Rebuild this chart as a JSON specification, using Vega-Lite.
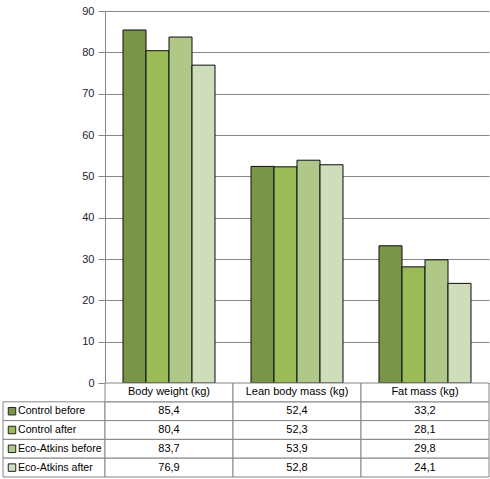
{
  "$schema": "https://vega.github.io/schema/vega-lite/v6.json",
  "background": "white",
  "padding": {"top": 5, "left": 2, "right": 2, "bottom": 1},
  "columns": 2,
  "spacing": 0,
  "bounds": "flush",
  "config": {
    "view": {"stroke": null},
    "font": "Liberation Sans",
    "locale": {"number": {"decimal": ",", "thousands": " ", "grouping": [3], "currency": ["", ""]}}
  },
  "datasets": {
    "diet": [
      {"measure": "Body weight (kg)", "series": "Control before", "value": 85.4},
      {"measure": "Body weight (kg)", "series": "Control after", "value": 80.4},
      {"measure": "Body weight (kg)", "series": "Eco-Atkins before", "value": 83.7},
      {"measure": "Body weight (kg)", "series": "Eco-Atkins after", "value": 76.9},
      {"measure": "Lean body mass (kg)", "series": "Control before", "value": 52.4},
      {"measure": "Lean body mass (kg)", "series": "Control after", "value": 52.3},
      {"measure": "Lean body mass (kg)", "series": "Eco-Atkins before", "value": 53.9},
      {"measure": "Lean body mass (kg)", "series": "Eco-Atkins after", "value": 52.8},
      {"measure": "Fat mass (kg)", "series": "Control before", "value": 33.2},
      {"measure": "Fat mass (kg)", "series": "Control after", "value": 28.1},
      {"measure": "Fat mass (kg)", "series": "Eco-Atkins before", "value": 29.8},
      {"measure": "Fat mass (kg)", "series": "Eco-Atkins after", "value": 24.1}
    ]
  },
  "concat": [
    {
      "width": 102,
      "height": 372,
      "data": {"values": []},
      "mark": {"type": "point", "opacity": 0}
    },
    {
      "width": 384,
      "height": 372,
      "data": {"name": "diet"},
      "encoding": {
        "x": {
          "field": "measure", "type": "nominal",
          "scale": {"domain": ["Body weight (kg)", "Lean body mass (kg)", "Fat mass (kg)"], "paddingInner": 0.28125, "paddingOuter": 0.140625},
          "axis": null
        },
        "xOffset": {
          "field": "series", "type": "nominal",
          "scale": {"domain": ["Control before", "Control after", "Eco-Atkins before", "Eco-Atkins after"], "paddingInner": 0, "paddingOuter": 0}
        },
        "y": {
          "field": "value", "type": "quantitative",
          "scale": {"domain": [0, 90], "nice": false},
          "axis": {
            "values": [0, 10, 20, 30, 40, 50, 60, 70, 80, 90],
            "title": null,
            "grid": true, "gridColor": "#868686", "gridOpacity": 1,
            "domainColor": "#868686", "tickColor": "#868686",
            "tickSize": 7, "labelPadding": 4,
            "labelFontSize": 11, "labelColor": "#1c1c30"
          }
        }
      },
      "layer": [
        {"mark": {"type": "bar", "color": "#000000", "opacity": 0.2, "xOffset": 3, "x2Offset": 4, "yOffset": 4}},
        {
          "mark": {"type": "bar", "stroke": "#0d0d0d", "strokeWidth": 1, "opacity": 1},
          "encoding": {
            "color": {
              "field": "series", "type": "nominal",
              "scale": {"domain": ["Control before", "Control after", "Eco-Atkins before", "Eco-Atkins after"], "range": ["#7a9448", "#9bbb59", "#afc888", "#d0ddbb"]},
              "legend": null
            }
          }
        }
      ]
    },
    {
      "width": 102,
      "height": 94,
      "data": {"name": "diet"},
      "transform": [{"filter": "datum.measure == 'Body weight (kg)'"}],
      "encoding": {
        "y": {
          "field": "series", "type": "nominal",
          "scale": {"domain": ["header", "Control before", "Control after", "Eco-Atkins before", "Eco-Atkins after"], "paddingInner": 0, "paddingOuter": 0},
          "axis": null
        }
      },
      "layer": [
        {"mark": {"type": "rect", "fill": "white", "stroke": "#868686", "strokeWidth": 1}},
        {
          "mark": {"type": "square", "size": 56, "xOffset": -42, "stroke": "#222222", "strokeWidth": 1, "opacity": 1, "filled": true},
          "encoding": {
            "color": {
              "field": "series", "type": "nominal",
              "scale": {"domain": ["Control before", "Control after", "Eco-Atkins before", "Eco-Atkins after"], "range": ["#7a9448", "#9bbb59", "#afc888", "#d0ddbb"]},
              "legend": null
            }
          }
        },
        {
          "mark": {"type": "text", "align": "left", "dx": -36, "fontSize": 10.6, "color": "#000000"},
          "encoding": {"text": {"field": "series", "type": "nominal"}}
        }
      ]
    },
    {
      "width": 384,
      "height": 94,
      "data": {"name": "diet"},
      "encoding": {
        "x": {
          "field": "measure", "type": "nominal",
          "scale": {"domain": ["Body weight (kg)", "Lean body mass (kg)", "Fat mass (kg)"], "paddingInner": 0, "paddingOuter": 0},
          "axis": null
        }
      },
      "layer": [
        {
          "mark": {"type": "rect", "fill": "white", "stroke": "#868686", "strokeWidth": 1},
          "encoding": {
            "y": {
              "field": "series", "type": "nominal",
              "scale": {"domain": ["header", "Control before", "Control after", "Eco-Atkins before", "Eco-Atkins after"], "paddingInner": 0, "paddingOuter": 0},
              "axis": null
            }
          }
        },
        {
          "mark": {"type": "text", "fontSize": 11, "color": "#000000"},
          "encoding": {
            "y": {"field": "series", "type": "nominal"},
            "text": {"field": "value", "type": "quantitative", "format": ".1f"}
          }
        },
        {
          "transform": [{"filter": "datum.series == 'Control before'"}],
          "mark": {"type": "rect", "fill": "white", "stroke": "#868686", "strokeWidth": 1},
          "encoding": {"y": {"datum": "header", "type": "nominal"}}
        },
        {
          "transform": [{"filter": "datum.series == 'Control before'"}],
          "mark": {"type": "text", "fontSize": 11, "color": "#000000"},
          "encoding": {
            "y": {"datum": "header", "type": "nominal"},
            "text": {"field": "measure", "type": "nominal"}
          }
        }
      ]
    }
  ]
}
